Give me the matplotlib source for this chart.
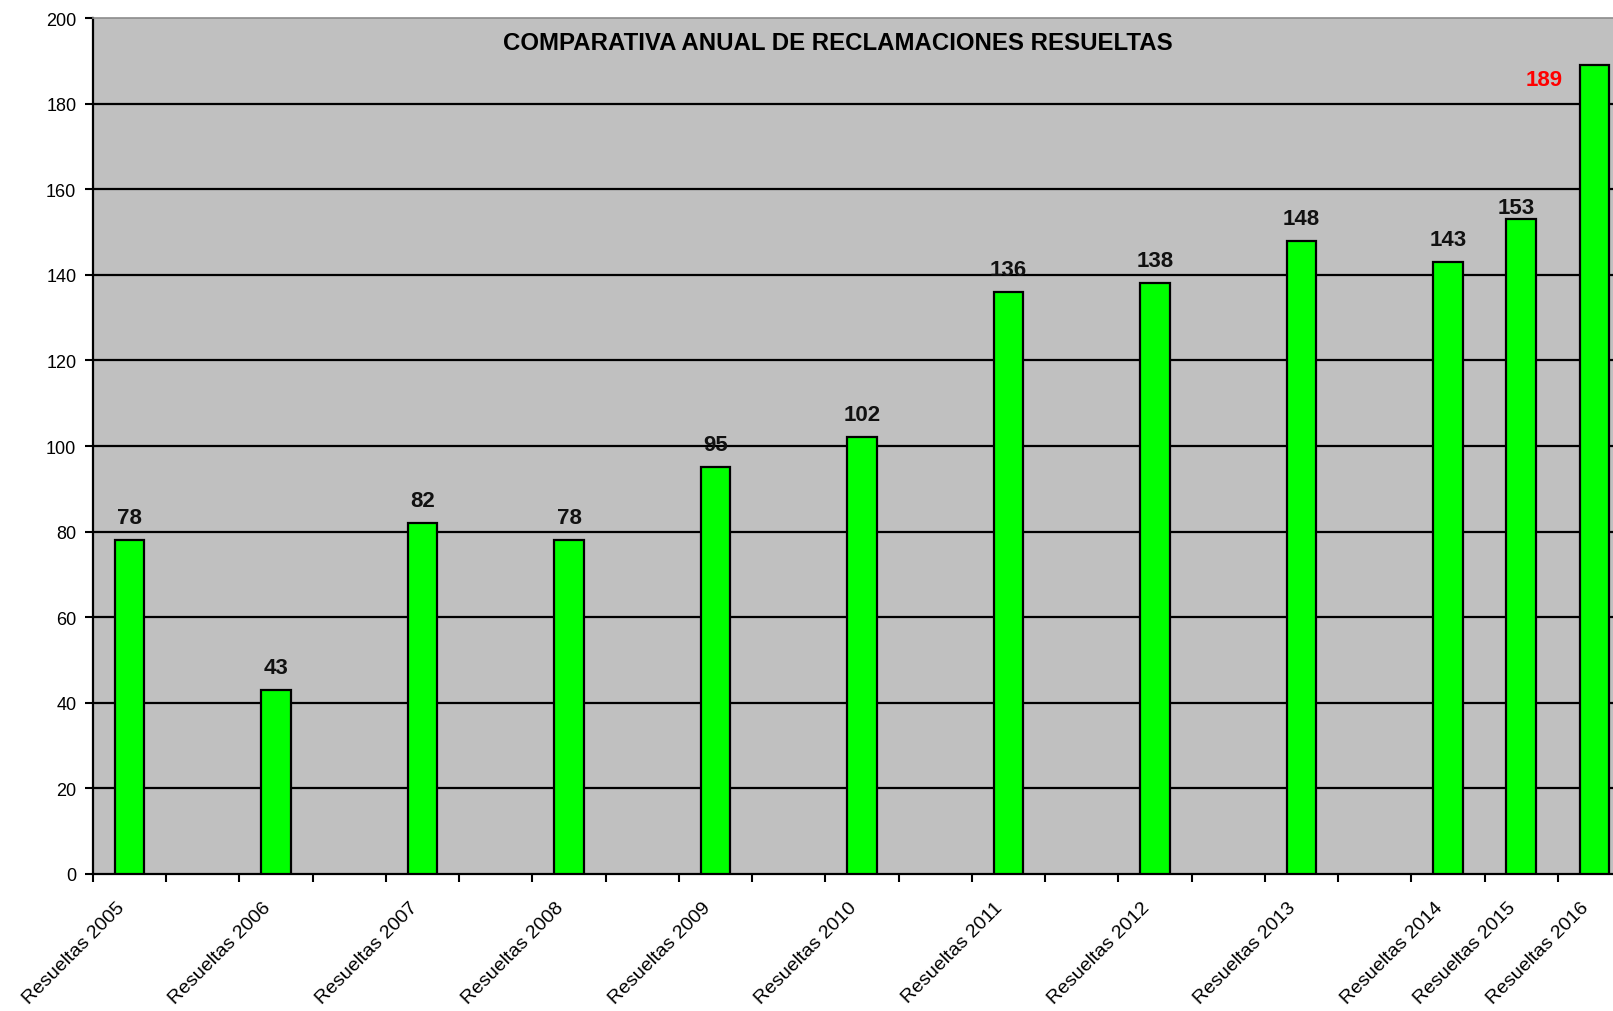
import matplotlib
matplotlib.use('Agg')
import matplotlib.pyplot as plt
from matplotlib.transforms import ScaledTranslation

plt.rcParams['font.family'] = ['Liberation Sans', 'DejaVu Sans']

# Datos: las categorías vacías dejan huecos entre años
etiquetas = ["Resueltas 2005", "Resueltas 2006", "Resueltas 2007", "Resueltas 2008",
             "Resueltas 2009", "Resueltas 2010", "Resueltas 2011", "Resueltas 2012",
             "Resueltas 2013", "Resueltas 2014", "Resueltas 2015", "Resueltas 2016"]
valores = [78, 43, 82, 78, 95, 102, 136, 138, 148, 143, 153, 189]
posiciones = [0, 2, 4, 6, 8, 10, 12, 14, 16, 18, 19, 20]
n_categorias = 21

fig = plt.figure(figsize=(16.13, 10.12), dpi=100)
ax = fig.add_axes([93 / 1613, 1 - 875 / 1012, (1631 - 93) / 1613, (875 - 19) / 1012])
ax.set_facecolor('#C0C0C0')

ax.bar(posiciones, valores, width=0.4, color='#00FF00', edgecolor='black',
       linewidth=1.6, zorder=3)

ax.set_xlim(-0.5, n_categorias - 0.5)
ax.set_ylim(0, 200)
ax.set_yticks(range(0, 201, 20))
for y in range(20, 200, 20):
    ax.axhline(y, color='black', linewidth=1.6, zorder=1)

# Marcas en los límites de categoría, etiquetas en las barras
ax.set_xticks([i - 0.5 for i in range(n_categorias + 1)])
ax.set_xticklabels([])
ax.set_xticks(posiciones, minor=True)
ax.set_xticklabels(etiquetas, minor=True, rotation=45, ha='right',
                   rotation_mode='anchor', fontsize=14)
ax.tick_params(axis='x', which='major', length=6, width=1.5, direction='out')
ax.tick_params(axis='x', which='minor', length=0, pad=16)
ax.tick_params(axis='y', length=6, width=1.5, labelsize=13, pad=6)

desplazamiento = ScaledTranslation(-14 / 100, -2 / 100, fig.dpi_scale_trans)
for lbl in ax.get_xticklabels(minor=True):
    lbl.set_transform(lbl.get_transform() + desplazamiento)

for s in ['left', 'bottom']:
    ax.spines[s].set_linewidth(1.6)
ax.spines['top'].set_color('#8C8C8C')
ax.spines['top'].set_linewidth(1.2)
ax.spines['right'].set_visible(False)

for x, v in zip(posiciones, valores):
    if v == max(valores):
        ax.annotate(str(v), (x, v), xytext=(-50, -14), textcoords='offset pixels',
                    ha='center', va='center', fontsize=16, fontweight='bold',
                    color='#FF0000')
    else:
        dx, dy = (-5, 1) if v == 153 else (0, 12)
        ax.annotate(str(v), (x, v), xytext=(dx, dy), textcoords='offset pixels',
                    ha='center', va='bottom', fontsize=16, fontweight='bold',
                    color='#111111')

fig.text(838 / 1613, 1 - 44 / 1012, "COMPARATIVA ANUAL DE RECLAMACIONES RESUELTAS",
         ha='center', va='center', fontsize=17.3, fontweight='bold')

fig.savefig("out.png", dpi=100)
